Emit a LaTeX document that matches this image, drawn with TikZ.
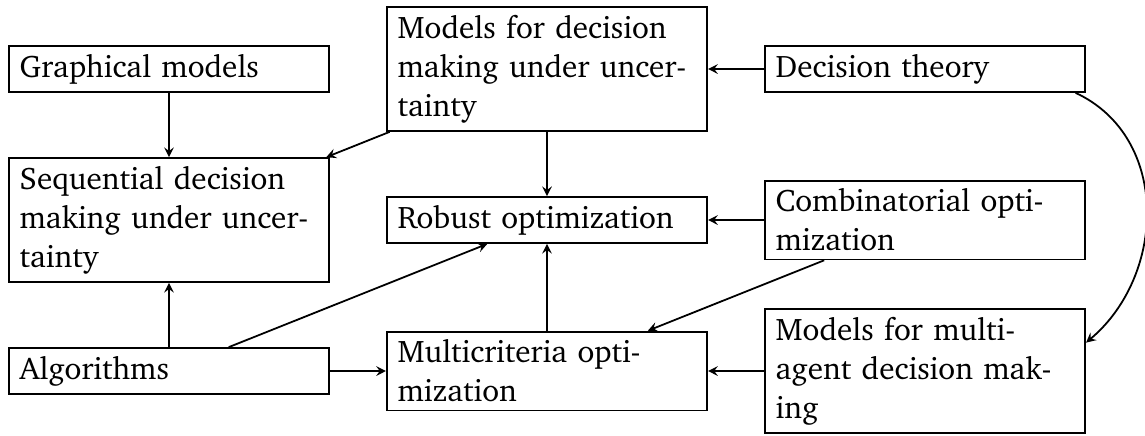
\documentclass[tikz,border=0pt]{standalone}
\usepackage[T1]{fontenc}
\usepackage{charter}
\usetikzlibrary{arrows.meta}
\tikzset{
  box/.style={draw, rectangle, text width=91.9pt, align=left,
              inner xsep=3.33pt, inner ysep=2.5pt,
              font=\fontsize{9.6}{12}\selectfont},
  arr/.style={-{Stealth[length=3pt, width=3pt, inset=1.1pt]}}
}
\begin{document}
\begin{tikzpicture}[x=0.3077pt, y=-0.3077pt, line width=0.55pt]
\useasboundingbox (0,0) rectangle (1145,435);
% left column
\node[box] (gm)  at (169,69)  {Graphical models};
\node[box] (sdm) at (169,220) {Sequential decision making under uncertainty};
\node[box] (alg) at (169,371) {Algorithms};
% middle column
\node[box] (mdm) at (547,69)  {Models for decision making under uncertainty};
\node[box] (ro)  at (547,220) {Robust optimization};
\node[box] (mco) at (547,371) {Multicriteria optimization};
% right column
\node[box] (dt)  at (925,69)  {Decision theory};
\node[box] (co)  at (925,220) {Combinatorial optimization};
\node[box] (mad) at (925,371) {Models for multi-agent decision making};
% connectors
\draw[arr] (gm) -- (sdm);
\draw[arr] (mdm) -- (sdm);
\draw[arr] (mdm) -- (ro);
\draw[arr] (dt) -- (mdm);
\draw[arr] (co) -- (ro);
\draw[arr] (co) -- (mco);
\draw[arr] (mad) -- (mco);
\draw[arr] (mco) -- (ro);
\draw[arr] (alg) -- (sdm);
\draw[arr] (alg) -- (ro);
\draw[arr] (alg) -- (mco);
\draw[arr] (dt.-9) to[out=-25, in=40, looseness=1.07] (mad.10);
\end{tikzpicture}
\end{document}
